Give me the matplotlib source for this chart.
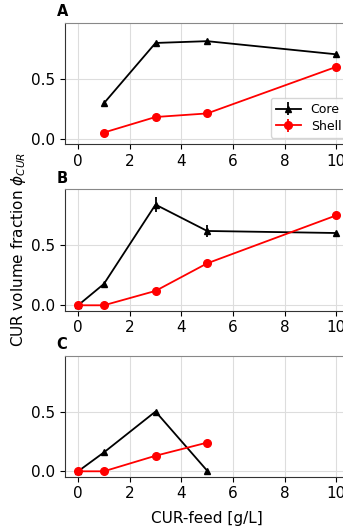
import numpy as np
import matplotlib.pyplot as plt

# ── Data ──────────────────────────────────────────────────────────────────
panels = ['A', 'B', 'C']

core_x = [[1, 3, 5, 10], [0, 1, 3, 5, 10], [0, 1, 3, 5]]
core_y = [[0.295, 0.80, 0.815, 0.705], [0.0, 0.178, 0.84, 0.62, 0.603],
          [0.0, 0.158, 0.50, 0.005]]
core_err = [[0.0, 0.0, 0.0, 0.0], [0.0, 0.0, 0.06, 0.05, 0.0],
            [0.0, 0.0, 0.0, 0.0]]

shell_x = [[1, 3, 5, 10], [0, 1, 3, 5, 10], [0, 1, 3, 5]]
shell_y = [[0.05, 0.18, 0.21, 0.60], [0.0, 0.0, 0.12, 0.35, 0.75],
           [0.0, 0.0, 0.13, 0.24]]
shell_err = [[0.0, 0.0, 0.0, 0.0], [0.0, 0.0, 0.0, 0.02, 0.0],
             [0.0, 0.0, 0.0, 0.0]]

# ── Plot ───────────────────────────────────────────────────────────────────
fig = plt.figure(figsize=(3.43, 5.29), dpi=100)

# axes run past the right edge (reference is cropped there)
boxes = [(0.19, 0.728, 0.828, 0.2285),
         (0.19, 0.4127, 0.828, 0.2293),
         (0.19, 0.0989, 0.828, 0.2287)]

for i, (label, box) in enumerate(zip(panels, boxes)):
    ax = fig.add_axes(box)
    ax.errorbar(core_x[i], core_y[i], yerr=core_err[i], color='black',
                marker='^', ms=5, lw=1.3, elinewidth=1.3, label='Core')
    ax.errorbar(shell_x[i], shell_y[i], yerr=shell_err[i], color='red',
                marker='o', ms=5.5, lw=1.3, elinewidth=1.3, label='Shell')
    ax.set_xlim(-0.5, 10.5)
    ax.set_ylim(-0.045, 0.967)
    ax.set_xticks([0, 2, 4, 6, 8, 10])
    ax.set_yticks([0.0, 0.5])
    ax.tick_params(labelsize=11, length=3.5)
    ax.grid(True, color='#dddddd', lw=0.8)
    ax.set_axisbelow(True)
    for s in ['top', 'right']:
        ax.spines[s].set_color('#888888')
    for s in ['left', 'bottom']:
        ax.spines[s].set_color('#333333')
    ax.text(-0.03, 1.03, label, transform=ax.transAxes, fontsize=10.5,
            fontweight='bold', ha='left', va='bottom')
    if i == 0:
        ax.legend(loc='lower right', fontsize=9, bbox_to_anchor=(1.012, 0.0),
                  handlelength=2.0, borderpad=0.4, labelspacing=0.3)
    if i == 2:
        ax.set_xlabel('CUR-feed [g/L]', fontsize=11, labelpad=7)

fig.text(0.055, 0.529, r'CUR volume fraction $\phi_{CUR}$', rotation=90,
         ha='center', va='center', fontsize=11)

plt.savefig('out.png', dpi=100)
